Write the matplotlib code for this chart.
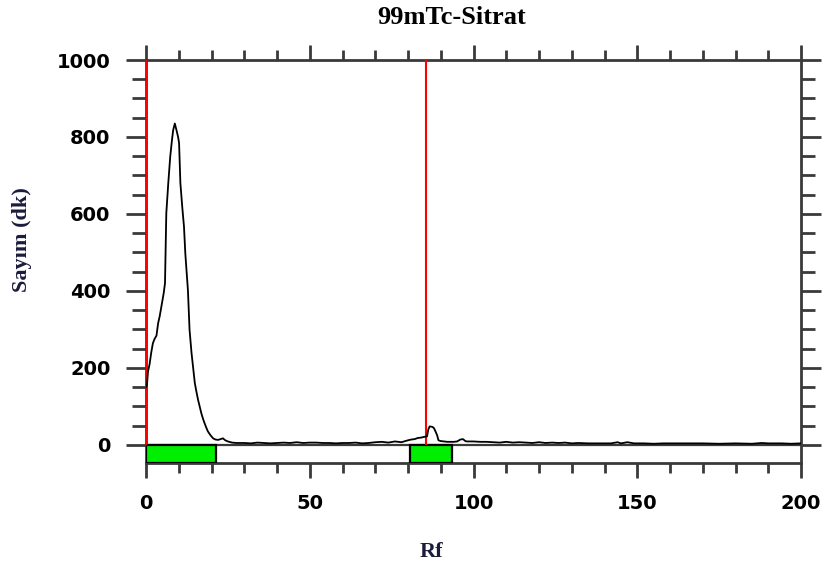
import matplotlib
matplotlib.use("Agg")
import matplotlib.pyplot as plt
from matplotlib.ticker import MultipleLocator
from matplotlib.patches import Rectangle

# Radio-TLC scan of 99mTc-citrate: counts vs. Rf
rf = [0.0, 0.3, 0.6, 1.1, 1.6, 2.1, 2.6, 3.2, 3.7, 4.2, 4.7, 5.4, 5.8, 6.2, 6.8,
      7.4, 7.9, 8.3, 8.8, 9.1, 9.3, 9.8, 10.1, 10.5, 11.1, 11.6, 12.0, 12.4, 12.8,
      13.3, 13.9, 14.4, 14.9, 15.4, 15.9, 16.4, 16.9, 17.4, 17.9, 18.4, 18.9, 19.7,
      20.5, 21.2, 22.0, 22.7, 23.5, 24.2, 25.0, 26.3, 27.6,
      30, 32, 34, 36, 38, 40, 42, 44, 46, 48, 50, 52, 54, 56, 58, 60, 62, 64, 66,
      68, 70, 72, 74, 76, 78, 80, 81, 82, 83, 84, 85, 85.8, 86.2, 86.6, 87.4, 87.9,
      88.4, 88.9, 89.3, 90, 91, 92, 93, 94, 95, 96, 96.8, 97.5, 98, 100,
      102, 104, 106, 108, 110, 112, 114, 116, 118, 120, 122, 124, 126, 128, 130,
      132, 135, 138, 140, 142, 144, 145, 147, 149, 152, 155, 158, 160, 165, 170,
      175, 180, 185, 188, 190, 194, 197, 200]
counts = [150, 156, 190, 210, 240, 264, 275, 284, 316, 335, 359, 394, 420, 602, 680,
          749, 790, 818, 835, 825, 818, 800, 784, 680, 615, 567, 498, 450, 402,
          299, 239, 200, 161, 138, 117, 100, 82, 68, 56, 45, 35, 25,
          17, 14, 13, 15, 17, 12, 9, 6, 5,
          5, 4, 6, 5, 4, 5, 6, 5, 7, 5, 6, 6, 5, 5, 4, 5, 5, 6, 4,
          5, 7, 8, 6, 9, 7, 12, 14, 15, 18, 19, 21, 22, 40, 48, 47, 44,
          35, 25, 12, 10, 9, 8, 8, 8, 9, 14, 15, 10, 9, 9,
          8, 8, 7, 6, 8, 6, 7, 6, 5, 7, 5, 6, 5, 6, 4,
          5, 4, 4, 4, 4, 7, 4, 7, 4, 4, 3, 4, 4, 4, 4,
          3, 4, 3, 5, 4, 4, 3, 4]

# integration regions (Rf start, Rf end) and peak markers
regions = [(0.0, 21.5), (80.5, 93.3)]
markers = [0.0, 85.5]

x_range = (0, 200)
y_range = (-47, 1000)
x_major = 50
x_minor = 10
y_major = 200
y_minor = 50

dark = "#3a3a3a"
navy = "#1b1b3c"

fig = plt.figure(figsize=(8.26, 5.72), dpi=100)
ax = fig.add_axes([146 / 826, 1 - 463 / 572, 655 / 826, 403 / 572])

ax.set_xlim(*x_range)
ax.set_ylim(*y_range)

# baseline at zero counts
ax.plot(x_range, [0, 0], color=dark, lw=1.6, zorder=2)

# region boxes below the baseline
for start, end in regions:
    ax.add_patch(Rectangle((start, y_range[0]), end - start, -y_range[0],
                           facecolor="#00ee00", edgecolor="black", lw=1.6,
                           zorder=3))

# peak markers
ax.vlines(markers, 0, y_range[1], colors="red", lw=1.5, zorder=4)

# scan trace
ax.plot(rf, counts, color="black", lw=1.3, zorder=5)

for s in ax.spines.values():
    s.set_color(dark)
    s.set_linewidth(2)

ax.xaxis.set_major_locator(MultipleLocator(x_major))
ax.xaxis.set_minor_locator(MultipleLocator(x_minor))
ax.yaxis.set_major_locator(MultipleLocator(y_major))
ax.yaxis.set_minor_locator(MultipleLocator(y_minor))
ax.set_yticks(range(0, 1001, y_major))

ax.tick_params(axis="x", which="both", direction="out", top=True, bottom=True,
               color=dark, width=2, pad=11)
ax.tick_params(axis="x", which="major", length=11)
ax.tick_params(axis="x", which="minor", length=7.5)
ax.tick_params(axis="y", which="both", direction="out", left=True, right=True,
               color=dark, width=2, pad=11)
ax.tick_params(axis="y", which="major", length=14.5)
ax.tick_params(axis="y", which="minor", length=10)

for lab in ax.get_xticklabels() + ax.get_yticklabels():
    lab.set_fontfamily("DejaVu Sans")
    lab.set_fontweight("bold")
    lab.set_fontsize(14)
    lab.set_color("black")

fig.text(452 / 826, 1 - 17 / 572, "99mTc-Sitrat", ha="center", va="center",
         family="Liberation Serif", weight="bold", fontsize=19, color="black")
fig.text(431 / 826, 1 - 552 / 572, "Rf", ha="center", va="center",
         family="Liberation Serif", weight="bold", fontsize=16, color=navy)
fig.text(22 / 826, 1 - 240 / 572, "Sayım (dk)", ha="center", va="center",
         rotation=90, family="Liberation Serif", weight="bold", fontsize=16,
         color=navy)

fig.savefig("out.png", dpi=100, facecolor="white")
